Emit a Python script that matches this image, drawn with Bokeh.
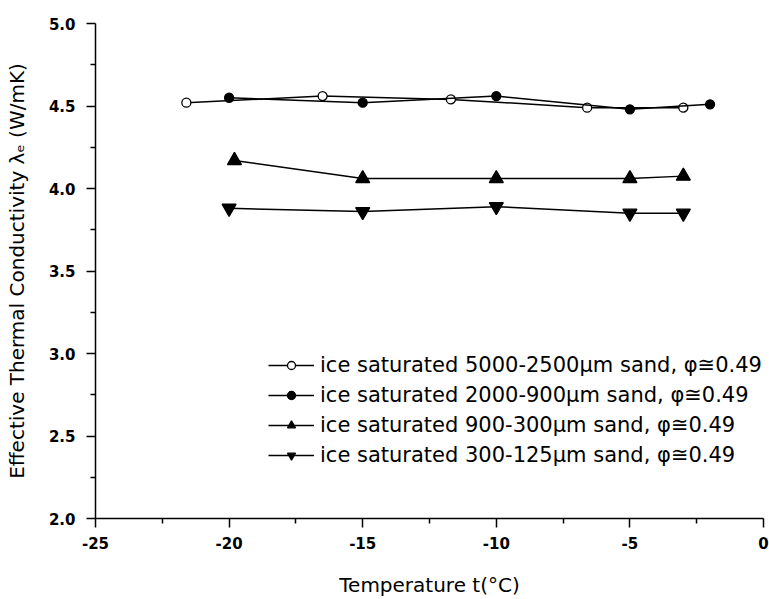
from bokeh.plotting import figure
from bokeh.models import FixedTicker, Legend, LegendItem
from bokeh.embed import file_html
from bokeh.resources import INLINE

# ---- data ----
t_open = [-21.6, -16.5, -11.7, -6.6, -3.0]
k_open = [4.52, 4.56, 4.54, 4.49, 4.49]

t_fill = [-20.0, -15.0, -10.0, -5.0, -2.0]
k_fill = [4.55, 4.52, 4.56, 4.48, 4.51]

t_up = [-19.8, -15.0, -10.0, -5.0, -3.0]
k_up = [4.17, 4.06, 4.06, 4.06, 4.075]

t_down = [-20.0, -15.0, -10.0, -5.0, -3.0]
k_down = [3.88, 3.86, 3.89, 3.85, 3.85]

labels = [
    "ice saturated 5000-2500μm sand, φ≅0.49",
    "ice saturated 2000-900μm sand, φ≅0.49",
    "ice saturated 900-300μm sand, φ≅0.49",
    "ice saturated 300-125μm sand, φ≅0.49",
]

x_ticks = [-25, -20, -15, -10, -5, 0]
x_minor = [-22.5, -17.5, -12.5, -7.5, -2.5]
y_ticks = [2.0, 2.5, 3.0, 3.5, 4.0, 4.5, 5.0]
y_minor = [2.25, 2.75, 3.25, 3.75, 4.25, 4.75]
y_tick_labels = ["2.0", "2.5", "3.0", "3.5", "4.0", "4.5", "5.0"]
x_tick_labels = ["-25", "-20", "-15", "-10", "-5", "0"]

x_title = "Temperature t(°C)"
y_title = "Effective Thermal Conductivity λₑ (W/mK)"

FONT = "DejaVu Sans"

p = figure(width=769, height=599, x_range=(-25, 0), y_range=(2.0, 5.0),
           output_backend="svg", toolbar_location=None,
           min_border_left=95, min_border_right=6, min_border_top=23,
           min_border_bottom=81)
p.outline_line_color = None
p.grid.visible = False
p.background_fill_color = "white"
p.border_fill_color = "white"

p.xaxis.ticker = FixedTicker(ticks=x_ticks, minor_ticks=x_minor)
p.yaxis.ticker = FixedTicker(ticks=y_ticks, minor_ticks=y_minor)
p.xaxis.major_label_overrides = {t: s for t, s in zip(x_ticks, x_tick_labels)}
p.yaxis.major_label_overrides = {t: s for t, s in zip(y_ticks, y_tick_labels)}

for ax in (p.xaxis, p.yaxis):
    ax.axis_line_width = 1.5
    ax.axis_line_color = "black"
    ax.major_tick_line_width = 1.5
    ax.major_tick_line_color = "black"
    ax.minor_tick_line_width = 1.5
    ax.minor_tick_line_color = "black"
    ax.major_tick_out = 9
    ax.major_tick_in = 0
    ax.minor_tick_out = 5
    ax.minor_tick_in = 0
    ax.major_label_text_font = FONT
    ax.major_label_text_font_size = "15px"
    ax.major_label_text_font_style = "bold"
    ax.major_label_text_color = "black"
    ax.axis_label_text_font = FONT
    ax.axis_label_text_font_size = "20px"
    ax.axis_label_text_font_style = "normal"
    ax.axis_label_text_color = "black"

p.xaxis.major_label_standoff = 9
p.yaxis.major_label_standoff = 11
p.xaxis.axis_label = x_title
p.xaxis.axis_label_standoff = 21
p.yaxis.axis_label = y_title
p.yaxis.axis_label_standoff = 17

items = []
specs = [
    (t_open, k_open, "circle", "white", 9),
    (t_fill, k_fill, "circle", "black", 9),
    (t_up, k_up, "triangle", "black", 14),
    (t_down, k_down, "inverted_triangle", "black", 14),
]
for (xs, ys, marker, fill, size), lab in zip(specs, labels):
    ln = p.line(xs, ys, line_color="black", line_width=1.5)
    sc = p.scatter(xs, ys, marker=marker, size=size, fill_color=fill,
                   line_color="black", line_width=1.3)
    items.append(LegendItem(label=lab, renderers=[ln, sc]))

legend = Legend(items=items, location=(173, 51), orientation="vertical",
                border_line_color=None, background_fill_alpha=0,
                padding=0, margin=0, spacing=6,
                glyph_width=46, glyph_height=20, label_height=20,
                label_standoff=6,
                label_text_font=FONT, label_text_font_size="21px",
                label_text_color="black")
p.add_layout(legend, "center")

open("out.html", "w").write(file_html(p, INLINE))
